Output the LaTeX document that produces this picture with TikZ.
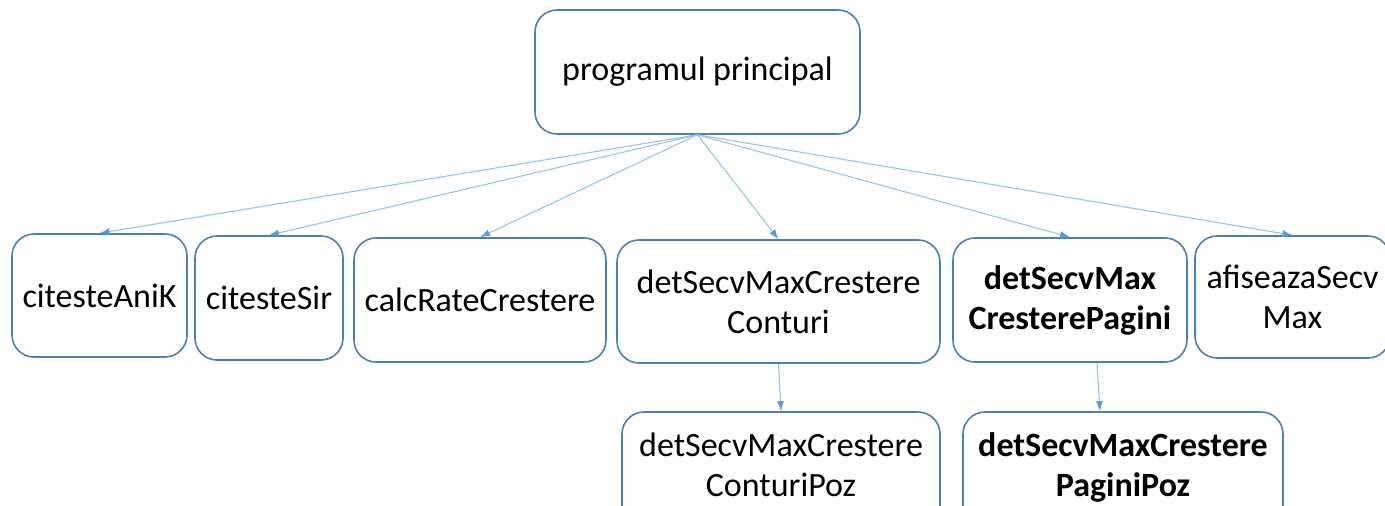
\documentclass[tikz,border=0pt]{standalone}
\usepackage{fontspec}
\setmainfont{Carlito}
\usetikzlibrary{arrows.meta, positioning}
\definecolor{boxline}{HTML}{4F7FB0}
\definecolor{linkline}{HTML}{9DC3E6}
\definecolor{linktip}{HTML}{5B9BD5}
\tikzset{x=1pt, y=-1pt, % one unit per pixel of the layout
every node/.style={ % Sets the properties for each text
font=\fontsize{34}{40}\selectfont, align=center, inner sep=0pt},
callbox/.style={ % Sets the properties for each procedure box
draw=boxline, line width=1.6pt, rounded corners=22pt, fill=white},
lowbox/.style={ % Boxes of the second level, text set a little higher
callbox, text depth=18pt},
calllink/.style={ % Sets the properties for each call
draw=linkline, line width=1.1pt,
-{Latex[length=10pt, width=7pt, fill=linktip, color=linktip]}}}

\begin{document}
\begin{tikzpicture}
    \fill[white] (0,0) rectangle (1385,506);
    \clip (0,0) rectangle (1385,506);
    \node[callbox, minimum width=325pt, minimum height=124pt] (main) at (697.5,72) {programul principal};
    \node[callbox, minimum width=175pt, minimum height=123pt] (aniK) at (99.5,295.5) {citesteAniK};
    \node[callbox, minimum width=148pt, minimum height=124pt] (sir) at (269,298) {citesteSir};
    \node[callbox, minimum width=252pt, minimum height=124pt] (rate) at (480,300) {calcRateCrestere};
    \node[callbox, minimum width=323pt, minimum height=123pt] (conturi) at (778.5,301.5) {detSecvMaxCrestere\\Conturi};
    \node[callbox, minimum width=234pt, minimum height=124pt] (pagini) at (1070,300) {\bfseries detSecvMax\\\bfseries CresterePagini};
    \node[callbox, minimum width=195pt, minimum height=122pt] (afis) at (1292.5,297) {afiseazaSecv\\Max};
    \node[lowbox, minimum width=318pt, minimum height=123pt] (conturiPoz) at (781,473.5) {detSecvMaxCrestere\\ConturiPoz};
    \node[lowbox, minimum width=320pt, minimum height=123pt] (paginiPoz) at (1123,473.5) {\bfseries detSecvMaxCrestere\\\bfseries PaginiPoz};
    \draw[calllink] (main.south) -- (aniK.north);
    \draw[calllink] (main.south) -- (sir.north);
    \draw[calllink] (main.south) -- (rate.north);
    \draw[calllink] (main.south) -- (conturi.north);
    \draw[calllink] (main.south) -- (pagini.north);
    \draw[calllink] (main.south) -- (afis.north);
    \draw[calllink] (conturi.south) -- (conturiPoz.north);
    \draw[calllink] ([xshift=27pt]pagini.south) -- ([xshift=-23pt]paginiPoz.north);
\end{tikzpicture}
\end{document}
